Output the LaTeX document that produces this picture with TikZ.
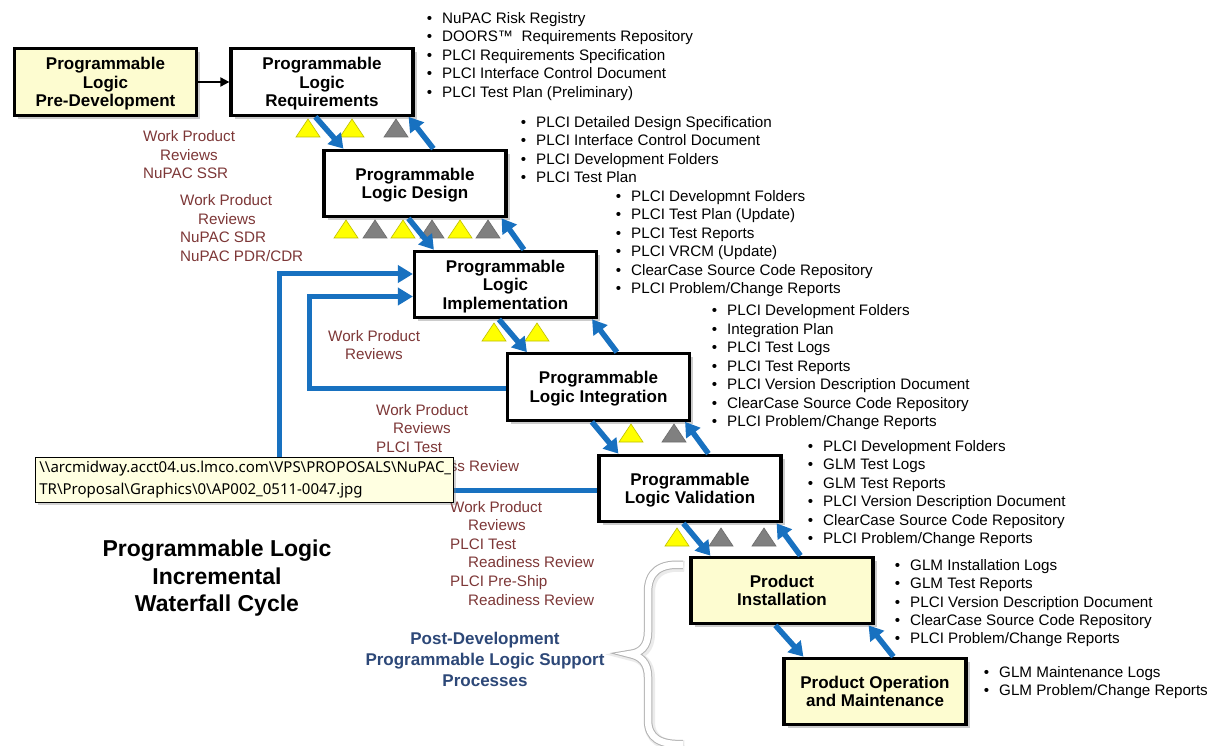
\documentclass[tikz,border=0pt]{standalone}
\usepackage{fontspec}
\setmainfont{Liberation Sans}
\newfontfamily\tipfont{Noto Sans}
\usetikzlibrary{arrows.meta,shadows,calc}

\definecolor{flowblue}{RGB}{24,113,192}
\definecolor{reviewred}{RGB}{125,55,55}
\definecolor{supportblue}{RGB}{45,72,120}
\definecolor{stagecream}{RGB}{253,252,208}
\definecolor{tipcream}{RGB}{255,255,225}
\definecolor{markyellow}{RGB}{255,255,0}
\definecolor{markgray}{RGB}{128,128,128}

\def\bracepath{(683,565) .. controls (660,563) and (648,572) .. (648,592) -- (648,632)
  .. controls (648,647) and (640,653) .. (630,654)
  .. controls (640,656) and (648,662) .. (648,677) -- (648,720)
  .. controls (648,738) and (660,745) .. (683,744)}

\begin{document}
\begin{tikzpicture}[x=1pt,y=-1pt,
  stage/.style={draw=black, line width=3.2pt, fill=white,
    minimum width=182pt, minimum height=66.5pt, align=center, inner sep=2pt,
    text depth=0pt,
    font=\fontsize{17}{18.6}\selectfont\bfseries,
    drop shadow={shadow xshift=3.5pt,shadow yshift=-3.5pt,opacity=.4}},
  support/.style={stage, fill=stagecream},
  item/.style={anchor=base west, inner sep=0pt, font=\fontsize{15.2}{18}\selectfont},
  review/.style={anchor=base west, inner sep=0pt, text=reviewred,
    font=\fontsize{15.2}{18}\selectfont},
  flow/.style={draw=flowblue, line width=5.5pt, -{Triangle[length=14pt,width=17pt]}},
  fb/.style={draw=flowblue, line width=5pt, line join=miter,
    -{Triangle[length=15pt,width=17pt]}},
  ymark/.style={fill=markyellow, draw=markyellow!75!black, line width=0.6pt},
  gmark/.style={fill=markgray, draw=markgray!85!black, line width=0.6pt},
  tip/.style={draw=black, line width=0.8pt, fill=tipcream, anchor=north west,
    text width=410pt, minimum height=45pt, inner xsep=4pt, align=left,
    font=\tipfont\fontsize{15}{22}\selectfont,
    drop shadow={shadow xshift=3pt,shadow yshift=-3pt,opacity=.35}}
]
\useasboundingbox (0,0) rectangle (1224,746);
\fill[white] (0,0) rectangle (1224,746);

% lifecycle stages
\node[support] (predev)  at (105.5,82)  {Programmable\\Logic\\Pre-Development};
\node[stage]   (req)     at (322,82)    {Programmable\\Logic\\Requirements};
\node[stage]   (design)  at (415,183.5) {Programmable\\Logic Design};
\node[stage]   (impl)    at (505.5,284.5) {Programmable\\Logic\\Implementation};
\node[stage]   (integ)   at (598.5,387) {Programmable\\Logic Integration};
\node[stage]   (valid)   at (690,488.5) {Programmable\\Logic Validation};
\node[support] (install) at (782,590.5) {Product\\Installation};
\node[support] (op)      at (875,691.5) {Product Operation\\and Maintenance};

\draw[line width=1.8pt, -{Triangle[length=9pt,width=9pt]}] (predev) -- (req);

% review markers
\foreach \x/\yb/\s in {308/137/ymark, 352/137/ymark, 396/137/gmark,
    346/238/ymark, 375/238/gmark, 403/238/ymark, 432/238/gmark, 460/238/ymark, 488/238/gmark,
    494/341/ymark, 537/341/ymark,
    631/442/ymark, 674/442/gmark,
    677/546/ymark, 721/546/gmark, 764/546/gmark}
  \draw[\s] ({\x-12},\yb) -- ({\x+12},\yb) -- (\x,{\yb-18}) -- cycle;

% forward and backward flow between stages
\foreach \a/\b in {req/design, design/impl, impl/integ, integ/valid, valid/install, install/op} {
  \draw[flow] ($(\a.south west)+(86,0)$) -- ($(\b.north west)+(21,0)$);
  \draw[flow] ($(\b.north west)+(111,0)$) -- ($(\a.south east)+(-6,0)$);
}

% iteration loops back to implementation
\draw[fb] ($(valid.west)+(0,2)$) -- ++(-318,0) |- ($(impl.west)+(0,-10.5)$);
\draw[fb] ($(integ.west)+(0,1)$) -- ++(-196,0) |- ($(impl.west)+(0,12)$);

% work products
\foreach \t [count=\i from 0] in {NuPAC Risk Registry, DOORS™~ Requirements Repository,
    PLCI Requirements Specification, PLCI Interface Control Document, PLCI Test Plan (Preliminary)}
  \node[item] (reqitem\i) at (442,{23.5+18.45*\i}) {\llap{\textbullet\hspace{10pt}}\t};
\foreach \t [count=\i from 0] in {PLCI Detailed Design Specification, PLCI Interface Control Document,
    PLCI Development Folders, PLCI Test Plan}
  \node[item] (designitem\i) at (536,{127.5+18.45*\i}) {\llap{\textbullet\hspace{10pt}}\t};
\foreach \t [count=\i from 0] in {PLCI Developmnt Folders, PLCI Test Plan (Update), PLCI Test Reports,
    PLCI VRCM (Update), ClearCase Source Code Repository, PLCI Problem/Change Reports}
  \node[item] (implitem\i) at (631,{201.5+18.45*\i}) {\llap{\textbullet\hspace{10pt}}\t};
\foreach \t [count=\i from 0] in {PLCI Development Folders, Integration Plan, PLCI Test Logs,
    PLCI Test Reports, PLCI Version Description Document, ClearCase Source Code Repository,
    PLCI Problem/Change Reports}
  \node[item] (integitem\i) at (727,{316+18.45*\i}) {\llap{\textbullet\hspace{10pt}}\t};
\foreach \t [count=\i from 0] in {PLCI Development Folders, GLM Test Logs, GLM Test Reports,
    PLCI Version Description Document, ClearCase Source Code Repository, PLCI Problem/Change Reports}
  \node[item] (validitem\i) at (823,{451.5+18.45*\i}) {\llap{\textbullet\hspace{10pt}}\t};
\foreach \t [count=\i from 0] in {GLM Installation Logs, GLM Test Reports,
    PLCI Version Description Document, ClearCase Source Code Repository, PLCI Problem/Change Reports}
  \node[item] (installitem\i) at (910,{570.5+18.3*\i}) {\llap{\textbullet\hspace{10pt}}\t};
\foreach \t [count=\i from 0] in {GLM Maintenance Logs, GLM Problem/Change Reports}
  \node[item] (opitem\i) at (999,{677.5+18.45*\i}) {\llap{\textbullet\hspace{10pt}}\t};

% reviews
\foreach \x/\y/\t [count=\i] in {143/141.4/Work Product, 160/160.4/Reviews, 143/178.4/NuPAC SSR}
  \node[review] (srr\i) at (\x,\y) {\t};
\foreach \x/\y/\t [count=\i] in {180/206/Work Product, 198/224.4/Reviews, 180/242.6/NuPAC SDR,
    180/261.4/{NuPAC PDR/CDR}}
  \node[review] (sdr\i) at (\x,\y) {\t};
\foreach \x/\y/\t [count=\i] in {328/341.4/Work Product, 345/359.4/Reviews}
  \node[review] (wpr\i) at (\x,\y) {\t};
\foreach \x/\y/\t [count=\i] in {376/415.4/Work Product, 393/433.6/Reviews, 376/452.4/PLCI Test,
    393/471.4/Readiness Review}
  \node[review] (trr\i) at (\x,\y) {\t};
\foreach \x/\y/\t [count=\i] in {450/512.4/Work Product, 468/530.4/Reviews, 450/549.4/PLCI Test,
    468/567.6/Readiness Review, 450/586.4/PLCI Pre-Ship, 468/605.4/Readiness Review}
  \node[review] (psr\i) at (\x,\y) {\t};

% captions
\node[align=center, text depth=0pt, font=\fontsize{23}{27.5}\selectfont\bfseries] (title) at (217,576)
  {Programmable Logic\\Incremental\\Waterfall Cycle};
\node[align=center, text=supportblue, font=\fontsize{17}{21}\selectfont\bfseries] (post) at (485,659)
  {Post-Development\\Programmable Logic Support\\Processes};

% brace grouping the post-development stages
\draw[gray!25, line width=11pt, opacity=.6, shift={(1.5,1.5)}] \bracepath;
\draw[draw=gray!60, line width=1pt, double=white, double distance=6.5pt] \bracepath;

% file path tooltip
\node[tip] (filepath) at (35,457)
  {\textbackslash\textbackslash arcmidway.acct04.us.lmco.com\textbackslash VPS\textbackslash PROPOSALS\textbackslash NuPAC\_\\
   TR\textbackslash Proposal\textbackslash Graphics\textbackslash 0\textbackslash AP002\_0511-0047.jpg};
\end{tikzpicture}
\end{document}
